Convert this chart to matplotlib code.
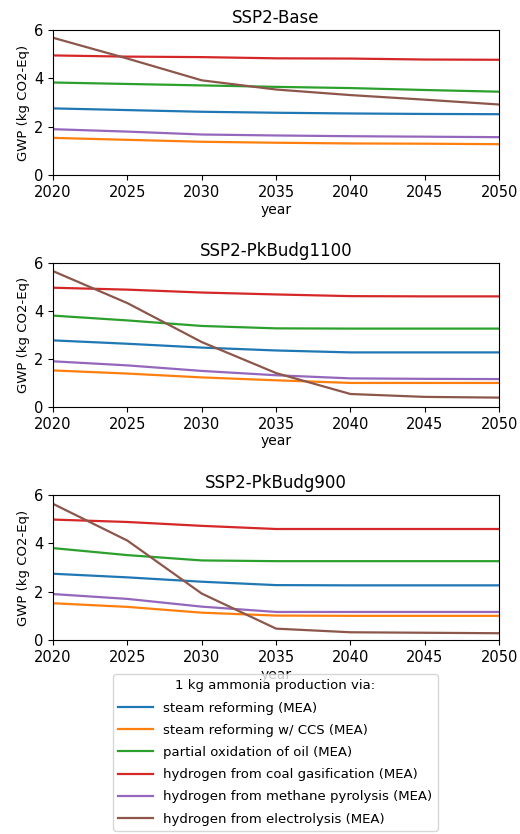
import matplotlib
matplotlib.use("Agg")
import matplotlib.pyplot as plt

years = [2020, 2025, 2030, 2035, 2040, 2045, 2050]

scenarios = ["SSP2-Base", "SSP2-PkBudg1100", "SSP2-PkBudg900"]

routes = [
    "steam reforming (MEA)",
    "steam reforming w/ CCS (MEA)",
    "partial oxidation of oil (MEA)",
    "hydrogen from coal gasification (MEA)",
    "hydrogen from methane pyrolysis (MEA)",
    "hydrogen from electrolysis (MEA)",
]

colors = ["#1f77b4", "#ff7f0e", "#2ca02c", "#d62728", "#9467bd", "#8c564b"]

# GWP (kg CO2-Eq per kg NH3), one list per route
base_steam = [2.76, 2.69, 2.62, 2.58, 2.55, 2.53, 2.52]
base_steam_ccs = [1.54, 1.46, 1.38, 1.34, 1.31, 1.30, 1.28]
base_pox_oil = [3.83, 3.77, 3.71, 3.65, 3.60, 3.52, 3.45]
base_coal = [4.95, 4.90, 4.88, 4.83, 4.82, 4.78, 4.77]
base_pyrolysis = [1.90, 1.80, 1.68, 1.64, 1.61, 1.59, 1.57]
base_electrolysis = [5.68, 4.82, 3.92, 3.54, 3.31, 3.12, 2.92]

pk1100_steam = [2.77, 2.63, 2.47, 2.35, 2.27, 2.27, 2.27]
pk1100_steam_ccs = [1.52, 1.39, 1.23, 1.11, 1.00, 1.00, 1.00]
pk1100_pox_oil = [3.80, 3.60, 3.37, 3.27, 3.26, 3.26, 3.26]
pk1100_coal = [4.96, 4.88, 4.76, 4.68, 4.61, 4.60, 4.60]
pk1100_pyrolysis = [1.90, 1.73, 1.50, 1.32, 1.19, 1.17, 1.16]
pk1100_electrolysis = [5.65, 4.32, 2.70, 1.41, 0.54, 0.42, 0.39]

pk900_steam = [2.74, 2.59, 2.41, 2.27, 2.26, 2.26, 2.26]
pk900_steam_ccs = [1.52, 1.37, 1.13, 1.01, 1.00, 1.00, 1.00]
pk900_pox_oil = [3.80, 3.51, 3.29, 3.26, 3.26, 3.26, 3.26]
pk900_coal = [4.98, 4.88, 4.72, 4.59, 4.59, 4.59, 4.59]
pk900_pyrolysis = [1.90, 1.70, 1.38, 1.16, 1.16, 1.16, 1.16]
pk900_electrolysis = [5.63, 4.11, 1.92, 0.47, 0.32, 0.30, 0.28]

series = [
    [base_steam, base_steam_ccs, base_pox_oil, base_coal, base_pyrolysis, base_electrolysis],
    [pk1100_steam, pk1100_steam_ccs, pk1100_pox_oil, pk1100_coal, pk1100_pyrolysis, pk1100_electrolysis],
    [pk900_steam, pk900_steam_ccs, pk900_pox_oil, pk900_coal, pk900_pyrolysis, pk900_electrolysis],
]

plt.rcParams["font.family"] = ["DejaVu Sans"]

fig = plt.figure(figsize=(5.2, 8.34), dpi=100)

panel_boxes = [
    (0.102, 0.790, 0.858, 0.174),
    (0.102, 0.512, 0.858, 0.173),
    (0.102, 0.2326, 0.858, 0.174),
]

handles = None
for box, title, data in zip(panel_boxes, scenarios, series):
    ax = fig.add_axes(box)
    lines = []
    for vals, color, name in zip(data, colors, routes):
        (ln,) = ax.plot(years, vals, color=color, lw=1.6, label=name)
        lines.append(ln)
    handles = lines
    ax.set_xlim(2020, 2050)
    ax.set_ylim(0, 6)
    ax.set_yticks([0, 2, 4, 6])
    ax.set_xticks(years)
    ax.tick_params(labelsize=10.5)
    ax.set_title(title, fontsize=12, pad=5)
    ax.set_xlabel("year", fontsize=10, labelpad=2)
    ax.set_ylabel("GWP (kg CO2-Eq)", fontsize=9.5, labelpad=3)

leg = fig.legend(
    handles,
    routes,
    loc="upper left",
    bbox_to_anchor=(0.2173, 0.1918),
    borderaxespad=0,
    title="1 kg ammonia production via:",
    fontsize=9.5,
    title_fontsize=9.5,
    labelspacing=0.7,
    handlelength=2.6,
    frameon=True,
)
leg.get_frame().set_alpha(0.8)

fig.savefig("out.png", dpi=100)
